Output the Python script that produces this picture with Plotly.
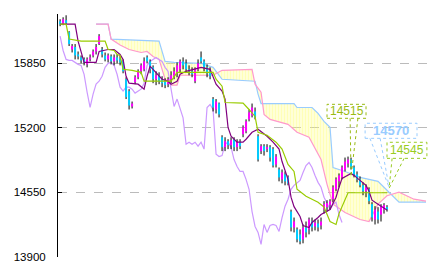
import plotly.graph_objects as go

# ---------------- data ----------------
candle_idx = list(range(110))
opens = [16275,16245,16285,16165,15990,16015,15940,15910,15890,15840,
         15890,15930,15970,16045,15990,15930,15890,15920,15870,15910,
         15890,15870,15690,15570,15415,15660,15710,15770,15790,15910,
         15870,15810,15690,15730,15690,15670,15640,15690,15720,15750,
         15790,15870,15850,15790,15770,15670,15790,15910,15870,15810,
         15770,15490,15385,15445,15105,15005,15065,15025,15085,15005,
         15055,15135,15165,15285,15325,15365,15115,14965,15015,14985,
         15005,14985,14830,14780,14680,14730,14700,14355,14195,14175,
         14125,14075,14195,14175,14255,14205,14235,14215,14375,14400,
         14420,14480,14580,14660,14700,14780,14840,14880,14800,14730,
         14680,14620,14560,14580,14430,14275,14355,14325,14375,14400]
closes = [16245,16295,16255,16045,16025,15930,15920,15880,15860,15890,
          15910,15970,16015,16125,15940,15890,15930,15870,15910,15880,
          15860,15770,15510,15425,15445,15710,15770,15830,15870,15870,
          15790,15690,15730,15670,15650,15630,15690,15730,15770,15830,
          15870,15830,15790,15770,15740,15790,15850,15870,15810,15750,
          15720,15405,15465,15335,15005,15065,15025,15075,15005,15055,
          15015,15205,15265,15355,15405,15305,14880,15015,14965,15005,
          14900,14820,14910,14700,14750,14660,14640,14195,14255,14075,
          14055,14195,14145,14275,14195,14245,14195,14255,14430,14440,
          14460,14600,14680,14720,14800,14860,14880,14800,14730,14680,
          14620,14560,14600,14460,14295,14375,14275,14400,14420,14375]
highs = [16295,16315,16335,16175,16045,16045,15970,15930,15910,15910,
         15940,15990,16045,16145,16015,15960,15950,15940,15940,15940,
         15930,15890,15710,15590,15465,15730,15790,15850,15910,15930,
         15890,15830,15770,15760,15720,15700,15710,15770,15810,15860,
         15890,15910,15890,15830,15810,15810,15890,15970,15890,15840,
         15810,15510,15490,15455,15125,15105,15085,15105,15105,15085,
         15085,15225,15285,15385,15445,15405,15135,15035,15035,15035,
         15025,15005,14935,14800,14780,14760,14720,14375,14295,14195,
         14175,14225,14255,14295,14295,14275,14275,14295,14460,14470,
         14480,14620,14700,14740,14820,14900,14910,14900,14820,14760,
         14710,14650,14630,14600,14450,14410,14400,14430,14440,14420]
lows = [16225,16235,16245,16025,15960,15890,15890,15850,15830,15810,
        15870,15910,15940,16035,15910,15870,15860,15840,15830,15850,
        15830,15750,15490,15385,15395,15640,15690,15740,15770,15850,
        15750,15650,15630,15640,15610,15600,15610,15650,15690,15710,
        15760,15790,15760,15730,15710,15650,15770,15850,15770,15710,
        15690,15365,15345,15305,14965,14965,14985,14985,14965,14965,
        14985,15105,15145,15265,15305,15285,14860,14935,14920,14955,
        14860,14800,14800,14660,14640,14620,14620,14155,14145,14045,
        14025,14035,14095,14125,14155,14165,14155,14175,14335,14355,
        14375,14450,14560,14600,14680,14760,14800,14780,14700,14650,
        14600,14520,14500,14430,14255,14225,14235,14255,14335,14355]

tenkan_x = [0,5,6,7,8,12,13,16,18,20,21,22,23,26,28,29,30,31,34,36,37,39,40,42,45,
            47,50,51,52,54,55,56,57,59,61,62,64,66,68,69,71,73,74,76,77,78,80,81,83,84,
            86,87,90,92,93,94,97,98,100,102,103,104,106,108,109]
tenkan_y = [16245,16245,16075,15960,15860,15860,15970,15990,15990,15940,15890,15720,15650,15640,15590,
            15720,15820,15790,15690,15670,15640,15670,15740,15770,15790,15810,15790,15720,15640,15570,
            15490,15205,15115,15055,15055,15085,15155,15185,15135,15115,15055,14985,14860,14680,14500,
            14405,14305,14215,14195,14245,14295,14325,14375,14500,14600,14690,14740,14720,14670,14620,
            14560,14470,14430,14390,14370]

kijun_x = [0,2,3,7,15,16,18,19,20,21,24,27,28,37,39,51,52,54,55,61,63,65,66,69,72,
           74,76,78,79,82,86,88,90,92,93,95,96,109]
kijun_y = [16245,16245,16095,16075,16075,15990,15980,15940,15930,15790,15780,15760,15670,15670,15760,
           15760,15690,15620,15455,15450,15385,15315,15155,15125,15055,14985,14830,14760,14580,14510,
           14450,14400,14255,14225,14335,14480,14545,14545]

chikou_x = list(range(95))
chikou_y = [16125,15980,15890,15880,15880,15860,15840,15830,15740,15560,
            15405,15540,15640,15670,15720,15810,15850,15860,15830,15740,
            15610,15570,15610,15610,15590,15550,15570,15590,15650,15830,
            15870,15890,15910,15890,15870,15810,15770,15590,15415,15490,
            15385,15300,15035,15055,15035,15055,15015,15055,14985,15405,
            15435,15385,14935,14910,14920,15035,15055,15005,14880,14810,
            14760,14760,14680,14580,14355,14205,14145,14025,14225,14145,
            14215,14225,14215,14155,14295,14410,14480,14580,14620,14650,
            14670,14750,14820,14850,14800,14720,14650,14600,14500,14440,
            14375,14430,14450,14325,14245]

spanB_x = [12,16,17,33,35,38,47,51,54,65,66,67,78,79,84,86,88,90,91,95,100,106,109,113,122]
spanB_y = [16245,16245,16095,16075,15870,15860,15850,15810,15690,15670,15540,15445,15445,15405,15405,
           15345,15265,15205,14800,14760,14700,14660,14570,14450,14450]

spanA_x = [12,16,17,19,20,23,27,29,31,33,35,37,39,40,51,54,64,65,67,68,70,76,79,83,87,
           89,91,95,100,103,106,109,113,118,122]
spanA_y = [16245,16245,16095,16055,16035,15990,15960,15970,15920,15890,15690,15630,15630,15730,15730,
           15780,15790,15640,15560,15335,15285,15235,15155,15105,14880,14630,14430,14345,14275,14255,
           14430,14515,14550,14480,14460]

tick_vals = [13900, 14550, 15200, 15850]
tick_text = ["13900", "14550", "15200", "15850"]

label_values = ["14515", "14570", "14545"]

# ---------------- figure ----------------
UP = "#FF00FF"
DOWN = "#00CCFF"
LW = 1.2
fig = go.Figure()

# cloud
fig.add_trace(go.Scatter(x=spanB_x, y=spanB_y, mode="lines",
                         line=dict(color="#99CCFF", width=LW), hoverinfo="skip"))
fig.add_trace(go.Scatter(x=spanA_x, y=spanA_y, mode="lines",
                         line=dict(color="#FF99CC", width=LW), hoverinfo="skip",
                         fill="tonexty", fillcolor="rgba(0,0,0,0)",
                         fillpattern=dict(shape="|", size=3, solidity=0.7,
                                          fgcolor="#FFFF70", bgcolor="rgba(0,0,0,0)")))

# lagging span
fig.add_trace(go.Scatter(x=chikou_x, y=chikou_y, mode="lines",
                         line=dict(color="#CC99FF", width=LW), hoverinfo="skip"))

# candle wicks
wx, wy = [], []
for i, h, l in zip(candle_idx, highs, lows):
    wx += [i, i, None]
    wy += [l, h, None]
fig.add_trace(go.Scatter(x=wx, y=wy, mode="lines", line=dict(color="black", width=1),
                         connectgaps=False, hoverinfo="skip"))

# candle bodies (thick vertical segments, open -> close)
for col, is_up in ((UP, True), (DOWN, False)):
    bx, by = [], []
    for i, o, c in zip(candle_idx, opens, closes):
        if (c > o) == is_up:
            bx += [i, i, None]
            by += [o, c, None]
    fig.add_trace(go.Scatter(x=bx, y=by, mode="lines", line=dict(color=col, width=2),
                             connectgaps=False, hoverinfo="skip"))

# conversion / base lines
fig.add_trace(go.Scatter(x=tenkan_x, y=tenkan_y, mode="lines",
                         line=dict(color="#800080", width=LW), hoverinfo="skip"))
fig.add_trace(go.Scatter(x=kijun_x, y=kijun_y, mode="lines",
                         line=dict(color="#99CC00", width=LW), hoverinfo="skip"))

# callouts
callouts = [
    dict(text=label_values[0], color="#99BB11", box=(89, 102, 15296, 15437),
         bases=[(96.7, 15296), (99.3, 15296)], tip=(97, 14710), size=12, bold=False),
    dict(text=label_values[1], color="#99CCFF", box=(101.7, 119, 15094, 15246),
         bases=[(103.3, 15094), (106.7, 15094)], tip=(109.7, 14600), size=13, bold=True),
    dict(text=label_values[2], color="#99CC22", box=(109, 122.3, 14892, 15054),
         bases=[(110.7, 14892), (114.7, 14892)], tip=(109.7, 14590), size=12, bold=False),
]
shapes = []
annotations = []
for c in callouts:
    x0, x1, y0, y1 = c["box"]
    shapes.append(dict(type="rect", xref="x", yref="y", x0=x0, x1=x1, y0=y0, y1=y1,
                       line=dict(color=c["color"], width=1, dash="dot"),
                       fillcolor="rgba(255,255,255,0)", layer="above"))
    for bx_, by_ in c["bases"]:
        shapes.append(dict(type="line", xref="x", yref="y", x0=bx_, y0=by_,
                           x1=c["tip"][0], y1=c["tip"][1],
                           line=dict(color=c["color"], width=1, dash="dot"), layer="above"))
    txt = "<b>%s</b>" % c["text"] if c["bold"] else c["text"]
    annotations.append(dict(x=(x0 + x1) / 2, y=(y0 + y1) / 2, xref="x", yref="y",
                            text=txt, showarrow=False,
                            font=dict(family="Liberation Sans, Arial", size=c["size"],
                                      color=c["color"])))

fig.update_layout(
    width=432, height=271,
    margin=dict(l=58, r=0, t=14, b=14, pad=0),
    paper_bgcolor="white", plot_bgcolor="white",
    showlegend=False,
    shapes=shapes, annotations=annotations,
    xaxis=dict(range=[-0.7, 124], visible=False, showgrid=False, zeroline=False),
    yaxis=dict(range=[13897, 16348], tickvals=tick_vals, ticktext=tick_text,
               showgrid=True, gridcolor="#BBBBBB", griddash="dash", gridwidth=1,
               showline=True, linecolor="black", linewidth=1,
               ticks="inside", ticklen=4, tickcolor="black",
               ticklabelstandoff=9, zeroline=False,
               tickfont=dict(family="Liberation Sans, Arial", size=11.5, color="black")),
)

fig.write_html("out.html")
